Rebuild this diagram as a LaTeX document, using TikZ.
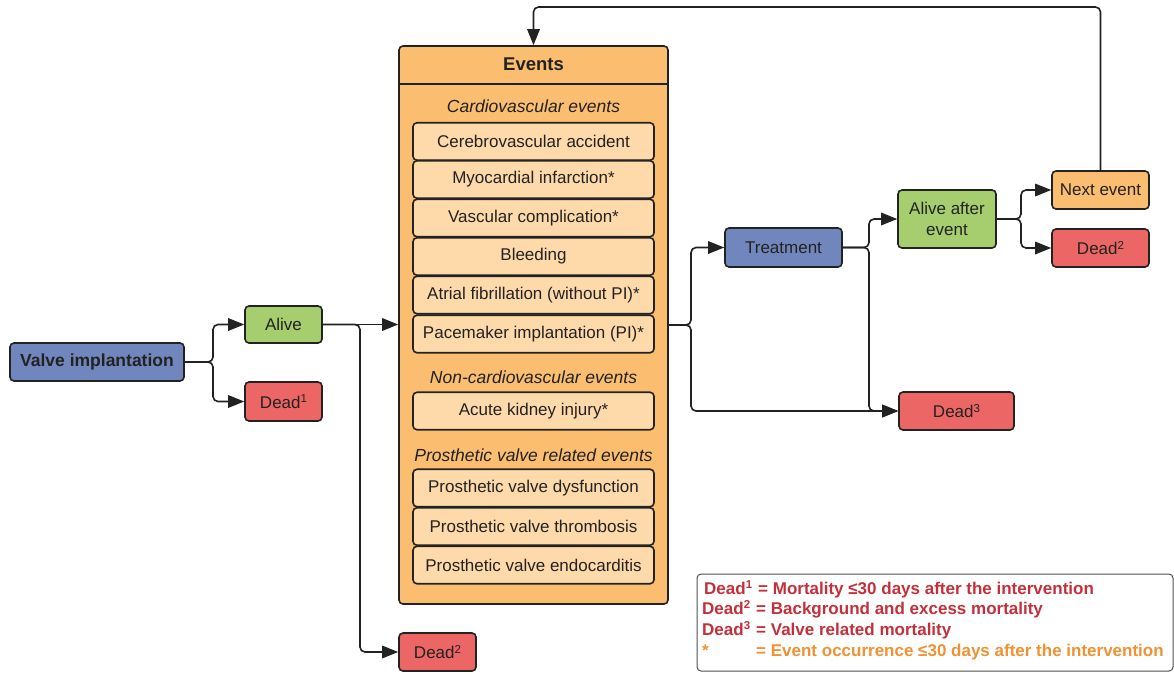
\documentclass[tikz,border=0pt]{standalone}
\usepackage{fontspec}
\setmainfont{Liberation Sans}
\usetikzlibrary{arrows.meta}
\definecolor{cblue}{RGB}{113,134,189}
\definecolor{cgreen}{RGB}{166,206,110}
\definecolor{cred}{RGB}{236,102,102}
\definecolor{corange}{RGB}{251,189,112}
\definecolor{clight}{RGB}{254,218,170}
\definecolor{ctext}{RGB}{34,34,34}
\definecolor{legred}{RGB}{196,48,58}
\definecolor{legorange}{RGB}{240,145,50}
\newcommand{\mysup}[1]{\raisebox{0.62ex}{\fontsize{11.5}{12}\selectfont #1}}
\begin{document}
\begin{tikzpicture}[x=1pt,y=-1pt,
  box/.style={draw=ctext, line width=1.6pt, rounded corners=4pt, inner sep=0pt,
    align=center, text=ctext, font=\fontsize{17}{20.5}\selectfont},
  item/.style={box, fill=clight, minimum width=241pt, minimum height=37.5pt},
  sect/.style={font=\fontsize{17.5}{20}\selectfont\itshape, text=ctext, inner sep=0pt},
  arr/.style={draw=ctext, line width=1.6pt, rounded corners=5pt,
    -{Triangle[length=16pt,width=12.5pt]}},
  leg/.style={font=\fontsize{17}{20}\selectfont\bfseries, inner sep=0pt, anchor=base west}
]
\useasboundingbox (0,0) rectangle (1174,673);

% main nodes
\node[box, fill=cblue, minimum width=174pt, minimum height=38pt,
  font=\fontsize{17.5}{20}\selectfont\bfseries] (valve) at (97,362) {Valve implantation};
\node[box, fill=cgreen, minimum width=77pt, minimum height=37pt] (alive) at (283.5,324.5) {Alive};
\node[box, fill=cred, minimum width=77pt, minimum height=39pt] (dead1) at (283.5,401.5) {Dead\mysup{1}};
\node[box, fill=cred, minimum width=77pt, minimum height=38pt] (dead2b) at (437.5,652) {Dead\mysup{2}};

% events box
\node[box, fill=corange, minimum width=269pt, minimum height=558pt] (events) at (533.5,325) {};
\draw[draw=ctext, line width=1.6pt] (events.north west) ++(0,39) -- ++(269,0);
\node[font=\fontsize{18.5}{20}\selectfont\bfseries, text=ctext, inner sep=0pt] (evtitle) at (533.5,64) {Events};

\node[sect] (s1) at (533.5,106) {Cardiovascular events};
\node[item] (i1) at (533.5,141.5) {Cerebrovascular accident};
\node[item] (i2) at (533.5,179.5) {Myocardial infarction*};
\node[item] (i3) at (533.5,218) {Vascular complication*};
\node[item] (i4) at (533.5,256.5) {Bleeding};
\node[item] (i5) at (533.5,295) {Atrial fibrillation (without PI)*};
\node[item] (i6) at (533.5,334) {Pacemaker implantation (PI)*};
\node[sect] (s2) at (533.5,377) {Non-cardiovascular events};
\node[item] (i7) at (533.5,411) {Acute kidney injury*};
\node[sect] (s3) at (533.5,455) {Prosthetic valve related events};
\node[item] (i8) at (533.5,488) {Prosthetic valve dysfunction};
\node[item] (i9) at (533.5,526.5) {Prosthetic valve thrombosis};
\node[item] (i10) at (533.5,565) {Prosthetic valve endocarditis};

% right side
\node[box, fill=cblue, minimum width=117pt, minimum height=39pt] (treat) at (783.5,247.5) {Treatment};
\node[box, fill=cgreen, minimum width=98pt, minimum height=58pt] (aae) at (947,219) {Alive after\\event};
\node[box, fill=corange, minimum width=97pt, minimum height=38pt] (next) at (1100.5,190) {Next event};
\node[box, fill=cred, minimum width=97pt, minimum height=38pt] (dead2r) at (1100.5,248) {Dead\mysup{2}};
\node[box, fill=cred, minimum width=115pt, minimum height=38pt] (dead3) at (956.5,411) {Dead\mysup{3}};

% connectors
\draw[arr] (valve.east) -- (213,362) |- (alive.west);
\draw[arr] (valve.east) -- (213,362) |- (dead1.west);
\draw[arr] (alive.east) -- (events.west |- alive.east);
\draw[arr] (alive.east) -- (360,324.5) |- (dead2b.west);
\draw[arr] (events.east) -- (691,325) |- (treat.west);
\draw[arr] (events.east) -- (691,325) |- (dead3.west);
\draw[arr] (treat.east) -- (869,247.5) |- (aae.west);
\draw[arr] (treat.east) -- (869,247.5) |- (dead3.west);
\draw[arr] (aae.east) -- (1021,219) |- (next.west);
\draw[arr] (aae.east) -- (1021,219) |- (dead2r.west);
\draw[arr] (next.north) -- (1100.5,7) -- (533.5,7) -- (events.north);

% legend
\node[draw=ctext!80, line width=1pt, rounded corners=4pt, minimum width=476pt,
  minimum height=97pt, inner sep=0pt] (legend) at (935,622.5) {};
\node[leg, text=legred] (l1a) at (704,594) {Dead\mysup{1}};
\node[leg, text=legred] (l1b) at (758,594) {= Mortality ≤30 days after the intervention};
\node[leg, text=legred] (l2a) at (702,614) {Dead\mysup{2}};
\node[leg, text=legred] (l2b) at (756,614) {= Background and excess mortality};
\node[leg, text=legred] (l3a) at (702,635) {Dead\mysup{3}};
\node[leg, text=legred] (l3b) at (756,635) {= Valve related mortality};
\node[leg, text=legorange] (l4a) at (702,656) {*};
\node[leg, text=legorange] (l4b) at (756,656) {= Event occurrence ≤30 days after the intervention};
\end{tikzpicture}
\end{document}
